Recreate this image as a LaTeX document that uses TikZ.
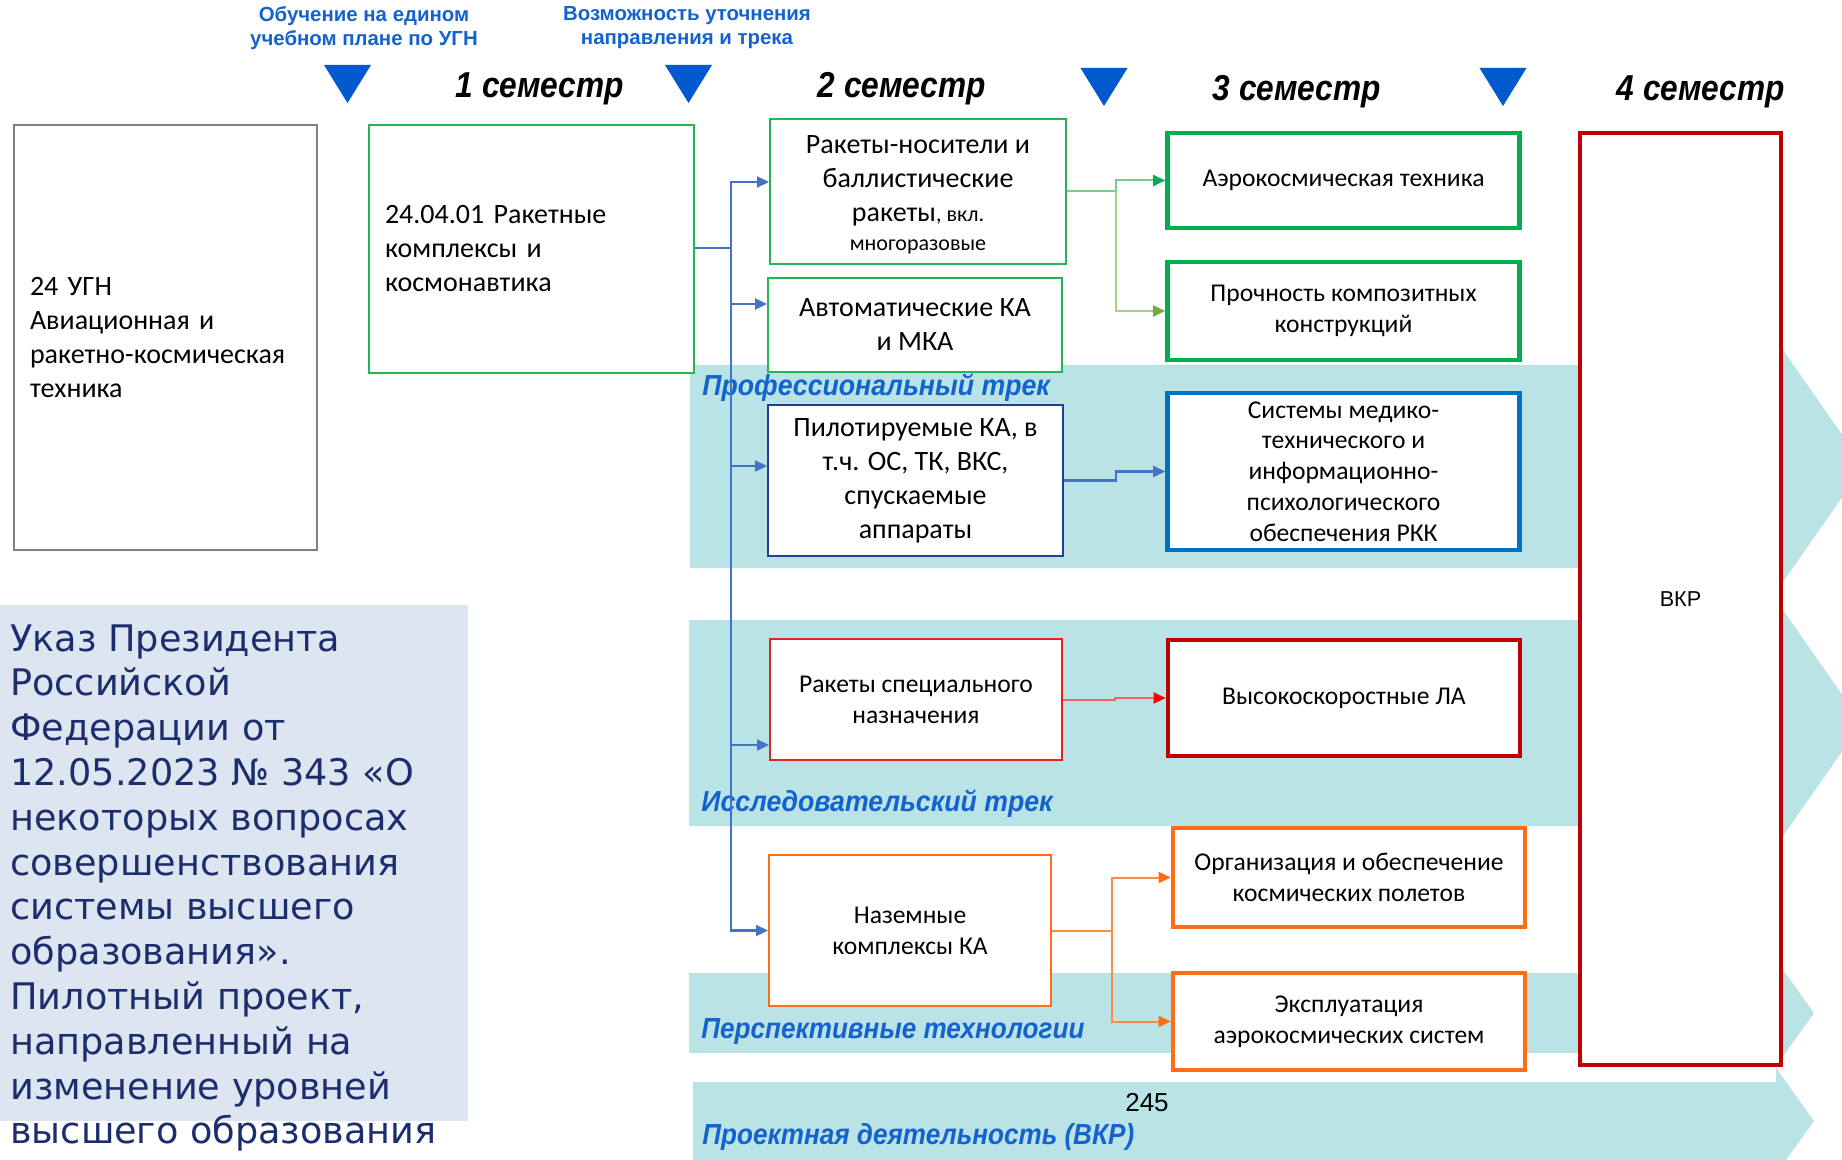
\documentclass[tikz,border=0pt]{standalone}
\usepackage{fontspec}
\usepackage{graphicx}
\setmainfont{Carlito}
\newfontfamily\arialfont{Liberation Sans}
\newfontfamily\decreefont{DejaVu Sans}
\usepackage{tikz}
\usetikzlibrary{positioning,arrows.meta,calc}

\definecolor{bandteal}{RGB}{185,227,229}
\definecolor{markblue}{RGB}{0,90,205}
\definecolor{labelblue}{RGB}{20,98,205}
\definecolor{busblue}{RGB}{68,114,196}
\definecolor{ugngray}{RGB}{128,128,128}
\definecolor{boxgreen}{RGB}{40,180,80}
\definecolor{thickgreen}{RGB}{0,176,80}
\definecolor{olivegreen}{RGB}{112,173,71}
\definecolor{lightgreen}{RGB}{120,205,140}
\definecolor{lightolive}{RGB}{165,208,135}
\definecolor{navyline}{RGB}{35,60,150}
\definecolor{sysblue}{RGB}{0,112,192}
\definecolor{redline}{RGB}{225,35,35}
\definecolor{lightred}{RGB}{240,100,100}
\definecolor{darkred}{RGB}{192,0,0}
\definecolor{orangeline}{RGB}{255,110,20}
\definecolor{lightorange}{RGB}{250,140,70}
\definecolor{notebg}{RGB}{220,229,240}
\definecolor{notetext}{RGB}{28,45,110}

% narrowed bold italic text, as in the slide
\newcommand{\narrowtxt}[2]{\scalebox{#1}[1]{#2}}

\tikzset{
  stagebox/.style={draw, fill=white, line width=1pt, align=center, inner sep=2pt,
    font=\fontsize{14}{17}\selectfont},
  trackbox/.style={draw, fill=white, line width=2.3pt, align=center, inner sep=2pt,
    minimum width=176pt, font=\fontsize{12.8}{15.4}\selectfont},
  semlabel/.style={anchor=base, font=\arialfont\bfseries\itshape\fontsize{18}{21}\selectfont},
  toplabel/.style={text=labelblue, align=center,
    font=\arialfont\bfseries\fontsize{10.2}{12}\selectfont},
  tracklabel/.style={anchor=west, inner sep=0pt, text=labelblue,
    font=\arialfont\bfseries\itshape\fontsize{14.5}{17}\selectfont},
  band/.style={fill=bandteal},
  semmark/.style={fill=markblue},
  busline/.style={busblue, line width=1.1pt},
  greenlink/.style={lightgreen, line width=1pt},
  olivelink/.style={lightolive, line width=1pt},
  redlink/.style={lightred, line width=1pt},
  orangelink/.style={lightorange, line width=1pt},
}

\begin{document}
\begin{tikzpicture}[x=0.5pt, y=-0.5pt, >={Triangle[length=6pt,width=5.5pt]}]
  \useasboundingbox (0,0) rectangle (1842,1160);
  \clip (0,0) rectangle (1842,1160);

  % track bands
  \fill[band] (690,365) -- (1776,365) -- (1776,340) -- (1864,466) -- (1776,592)
    -- (1776,568) -- (690,568) -- cycle;
  \fill[band] (689,620) -- (1776,620) -- (1776,600) -- (1862,723) -- (1776,846)
    -- (1776,826) -- (689,826) -- cycle;
  \fill[band] (689,973) -- (1776,973) -- (1776,960) -- (1814,1013) -- (1776,1066)
    -- (1776,1053) -- (689,1053) -- cycle;
  \fill[band] (693,1082) -- (1776,1082) -- (1776,1068) -- (1814,1121) -- (1776,1174)
    -- (1776,1160) -- (693,1160) -- cycle;

  % decree note
  \fill[notebg] (0,605) rectangle (468,1121);
  \node[anchor=north west, inner sep=0pt, align=left, text=notetext,
        font=\decreefont\fontsize{18.3}{22.4}\selectfont] (decree) at (10,624)
    {Указ Президента\\Российской\\Федерации от\\12.05.2023 № 343 «О\\некоторых вопросах\\
     совершенствования\\системы высшего\\образования».\\Пилотный проект,\\направленный на\\
     изменение уровней\\высшего образования};

  % semester markers
  \foreach \cx/\ty in {347.5/65, 688.5/65, 1104/68, 1503/68}
    \fill[semmark] (\cx-23.5,\ty) -- (\cx+23.5,\ty) -- (\cx,\ty+38) -- cycle;

  \node[toplabel] (ugnnote) at (364,28) {Обучение на едином\\учебном плане по УГН};
  \node[toplabel] (tracknote) at (687,28) {Возможность уточнения\\направления и трека};
  \node[semlabel] (sem1) at (540,98) {\narrowtxt{0.88}{1 семестр}};
  \node[semlabel] (sem2) at (902,98) {\narrowtxt{0.88}{2 семестр}};
  \node[semlabel] (sem3) at (1297,101) {\narrowtxt{0.88}{3 семестр}};
  \node[semlabel] (sem4) at (1701,101) {\narrowtxt{0.88}{4 семестр}};

  % track names
  \node[tracklabel] (tr1) at (702,388) {\narrowtxt{0.92}{Профессиональный трек}};
  \node[tracklabel] (tr2) at (701,804) {\narrowtxt{0.92}{Исследовательский трек}};
  \node[tracklabel] (tr3) at (701,1032) {\narrowtxt{0.9}{Перспективные технологии}};
  \node[tracklabel] (tr4) at (702,1137) {\narrowtxt{0.9}{Проектная деятельность (ВКР)}};
  \node[font=\arialfont\fontsize{13}{15}\selectfont] (pagenum) at (1147,1103) {245};

  % boxes
  \node[stagebox, draw=ugngray, line width=1.2pt, align=left, text width=135.5pt,
        inner xsep=8pt, minimum height=212.5pt] (ugn) at (165.5,337.5)
    {24 УГН\\Авиационная и\\ракетно-космическая\\техника};
  \node[stagebox, draw=boxgreen, align=left, text width=146.5pt, inner xsep=8pt,
        minimum height=124pt] (u2401) at (531.5,249)
    {24.04.01 Ракетные\\комплексы и\\космонавтика};
  \node[stagebox, draw=boxgreen, minimum width=148pt, minimum height=72.5pt] (rn)
    at (918,191.5) {\\[-5pt]Ракеты-носители и\\баллистические\\ракеты{\fontsize{11}{13}\selectfont, вкл.}\\[-2.5pt]
    {\fontsize{11}{13}\selectfont многоразовые}};
  \node[stagebox, draw=boxgreen, minimum width=147pt, minimum height=47pt] (avt)
    at (915,325) {Автоматические КА\\и МКА};
  \node[stagebox, draw=navyline, minimum width=147.5pt, minimum height=75.5pt] (pk)
    at (915.5,480.5) {Пилотируемые КА, в\\т.ч. ОС, ТК, ВКС,\\спускаемые\\аппараты};
  \node[stagebox, draw=redline, minimum width=146pt, minimum height=60.5pt,
        font=\fontsize{12.8}{15.4}\selectfont] (rs)
    at (916,699.5) {Ракеты специального\\назначения};
  \node[stagebox, draw=orangeline, minimum width=141pt, minimum height=75.5pt,
        font=\fontsize{12.8}{15.4}\selectfont] (nz)
    at (910,930.5) {Наземные\\комплексы КА};

  \node[trackbox, draw=thickgreen, minimum height=47.5pt] (aer) at (1343.5,180.5)
    {Аэрокосмическая техника};
  \node[trackbox, draw=thickgreen, minimum height=49pt] (pr) at (1343.5,311)
    {Прочность композитных\\конструкций};
  \node[trackbox, draw=sysblue, minimum height=78.5pt] (sys) at (1343.5,471.5)
    {Системы медико-\\технического и\\информационно-\\психологического\\обеспечения РКК};
  \node[trackbox, draw=darkred, minimum height=58pt] (vs) at (1344,698)
    {Высокоскоростные ЛА};
  \node[trackbox, draw=orangeline, minimum height=49.5pt] (org) at (1349,877.5)
    {Организация и обеспечение\\космических полетов};
  \node[trackbox, draw=orangeline, minimum height=48.5pt] (exp) at (1349,1021.5)
    {Эксплуатация\\аэрокосмических систем};
  \node[trackbox, draw=darkred, minimum width=100.5pt, minimum height=466pt,
        font=\arialfont\fontsize{10.8}{13}\selectfont] (vkr) at (1680.5,599) {ВКР};

  % connectors
  \coordinate (bus) at (731,248);
  \draw[busline] (u2401.east |- bus) -- (bus);
  \foreach \tgt/\ty in {rn/182, avt/304, pk/466, rs/745, nz/930.5}
    \draw[busline, ->] (bus) |- (\tgt.west |- 0,\ty);

  \coordinate (rnfork) at (1116,191.5);
  \draw[greenlink] (rn.east) -- (rnfork);
  \draw[greenlink, -{Triangle[length=6pt,width=5.5pt,color=thickgreen]}] (rnfork) |- (aer.west);
  \draw[olivelink, -{Triangle[length=6pt,width=5.5pt,color=olivegreen]}] (rnfork) |- (pr.west);

  \draw[busline, ->] (pk.east) -- ++(52,0) |- (sys.west);
  \draw[redlink, -{Triangle[length=6pt,width=5.5pt,color=red]}] (rs.east) -- ++(52,0) |- (vs.west);

  \coordinate (nzfork) at (1112,930.5);
  \draw[orangelink] (nz.east) -- (nzfork);
  \draw[orangelink, -{Triangle[length=6pt,width=5.5pt,color=orangeline]}] (nzfork) |- (org.west);
  \draw[orangelink, -{Triangle[length=6pt,width=5.5pt,color=orangeline]}] (nzfork) |- (exp.west);
\end{tikzpicture}
\end{document}
